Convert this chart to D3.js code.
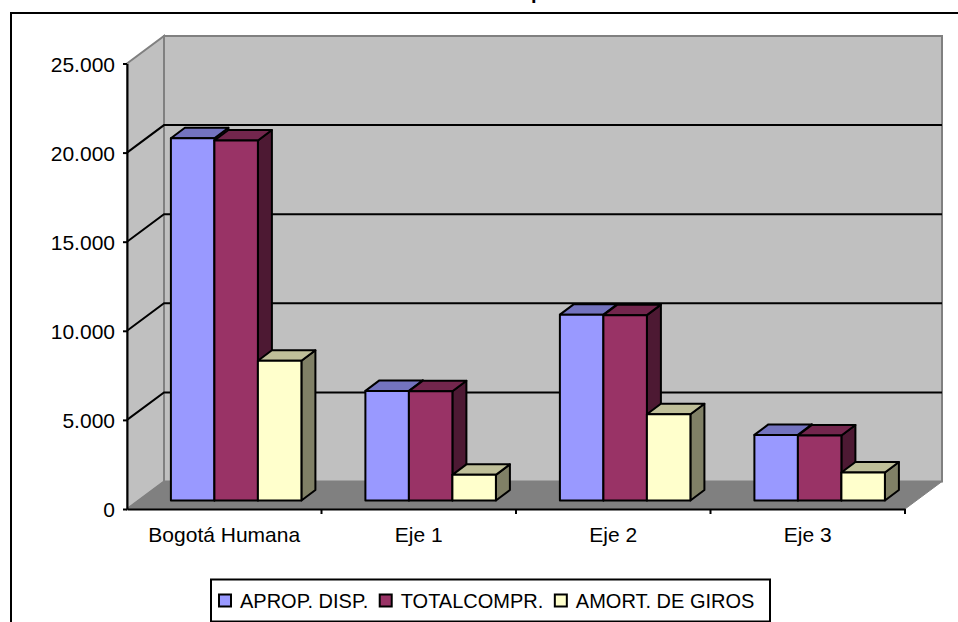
<!DOCTYPE html>
<html>
<head>
<meta charset="utf-8">
<script src="https://cdn.jsdelivr.net/npm/d3@7"></script>
<style>
html, body { margin: 0; padding: 0; background: #fff; overflow: hidden; }
svg { display: block; }
text { font-family: "Liberation Sans", Arial, sans-serif; fill: #000; }
</style>
</head>
<body>
<script>
// Daten
var categories = ["Bogotá Humana", "Eje 1", "Eje 2", "Eje 3"];
var seriesNames = ["APROP. DISP.", "TOTALCOMPR.", "AMORT. DE GIROS"];
var apropDisp = [20330, 6150, 10430, 3680];
var totalCompr = [20200, 6130, 10400, 3650];
var amortGiros = [7840, 1440, 4840, 1570];
var yTicks = [0, 5000, 10000, 15000, 20000, 25000];

var seriesValues = [apropDisp, totalCompr, amortGiros];
var faceColors = ["#9999ff", "#993366", "#ffffcc"];
var topColors = ["#7373bf", "#73264d", "#bfbf99"];
var sideColors = ["#59598c", "#4d1933", "#808066"];

var width = 958, height = 622;

// Boden und Rückwand (3D Versatz)
var plot = {left: 127, right: 905, top: 63.5, bottom: 509};
var wallDx = 37, wallDy = -27.5;
var barDx = 14, barDy = -10.5;  // Tiefe der Balken
var barLift = 8.5;              // Balken stehen etwas hinter der Achse
var barShift = 11.9;

var svg = d3.select("body").append("svg")
  .attr("width", width)
  .attr("height", height);

// Rahmen läuft rechts und unten aus dem Bild
svg.append("rect")
  .attr("x", 11).attr("y", 13)
  .attr("width", 1000).attr("height", 1000)
  .attr("fill", "none").attr("stroke", "#000").attr("stroke-width", 2);

// Rest vom abgeschnittenen Titel
svg.append("text")
  .attr("x", 531).attr("y", -1)
  .attr("font-size", 20).attr("font-weight", "bold")
  .text("p");

var yScale = d3.scaleLinear()
  .domain([0, 25000])
  .range([plot.bottom, plot.top]);

var xScale = d3.scaleBand()
  .domain(categories)
  .range([plot.left, plot.right]);

var groupWidth = xScale.bandwidth() * 0.671;

var barScale = d3.scaleBand()
  .domain(d3.range(seriesNames.length))
  .range([0, groupWidth]);

function pts(list) {
  return list.map(function (p) { return p.join(","); }).join(" ");
}

// Wände und Boden
var x0 = plot.left, x1 = plot.right, yTop = plot.top, yBot = plot.bottom;

svg.append("polygon")
  .attr("points", pts([[x0 + wallDx, yTop + wallDy], [x1 + wallDx, yTop + wallDy], [x1 + wallDx, yBot + wallDy], [x0 + wallDx, yBot + wallDy]]))
  .attr("fill", "#c0c0c0").attr("stroke", "#808080").attr("stroke-width", 2);

svg.append("polygon")
  .attr("points", pts([[x0, yTop], [x0 + wallDx, yTop + wallDy], [x0 + wallDx, yBot + wallDy], [x0, yBot]]))
  .attr("fill", "#c0c0c0").attr("stroke", "#808080").attr("stroke-width", 2);

svg.append("polygon")
  .attr("points", pts([[x0, yBot], [x0 + wallDx, yBot + wallDy], [x1 + wallDx, yBot + wallDy], [x1, yBot]]))
  .attr("fill", "#808080").attr("stroke", "#808080").attr("stroke-width", 1);

// Gitterlinien
var gridValues = yTicks.filter(function (d) { return d > 0 && d < 25000; });
svg.selectAll(".grid")
  .data(gridValues)
  .enter().append("polyline")
    .attr("class", "grid")
    .attr("fill", "none")
    .attr("stroke", "#000")
    .attr("stroke-width", 2)
    .attr("points", function (d) {
      var y = yScale(d);
      return pts([[x0, y], [x0 + wallDx, y + wallDy], [x1 + wallDx, y + wallDy]]);
    });

// Balken
var groups = svg.selectAll(".group")
  .data(categories)
  .enter().append("g")
    .attr("class", "group")
    .attr("transform", function (d) {
      var inset = (xScale.bandwidth() - groupWidth) / 2 + barShift;
      return "translate(" + (xScale(d) + inset) + "," + (-barLift) + ")";
    });

groups.each(function (cat, c) {
  var g = d3.select(this);
  seriesValues.forEach(function (values, s) {
    var left = barScale(s), right = left + barScale.bandwidth();
    var top = yScale(values[c]), bot = yScale(0);
    var bar = g.append("g")
      .attr("stroke", "#000")
      .attr("stroke-width", 2)
      .attr("stroke-linejoin", "round");
    bar.append("polygon")
      .attr("fill", sideColors[s])
      .attr("points", pts([[right, top], [right + barDx, top + barDy], [right + barDx, bot + barDy], [right, bot]]));
    bar.append("polygon")
      .attr("fill", topColors[s])
      .attr("points", pts([[left, top], [left + barDx, top + barDy], [right + barDx, top + barDy], [right, top]]));
    bar.append("rect")
      .attr("fill", faceColors[s])
      .attr("x", left).attr("y", top)
      .attr("width", barScale.bandwidth()).attr("height", bot - top);
  });
});

// Achsen
var esLocale = d3.formatLocale({decimal: ",", thousands: ".", grouping: [3], currency: ["$", ""]});

var yAxis = svg.append("g")
  .attr("transform", "translate(" + plot.left + ",0)")
  .call(d3.axisLeft(yScale).tickValues(yTicks).tickFormat(esLocale.format(",d")).tickSizeInner(4).tickSizeOuter(0).tickPadding(8));
yAxis.selectAll("text").attr("font-size", 21).attr("dy", "0.37em").style("font-family", "Liberation Sans").attr("fill", "#000");
yAxis.selectAll("line").attr("stroke", "#000").attr("stroke-width", 2);
yAxis.select(".domain").attr("stroke", "#000").attr("stroke-width", 2);

var xAxis = svg.append("g")
  .attr("transform", "translate(0," + plot.bottom + ")")
  .call(d3.axisBottom(xScale).tickSize(0).tickPadding(18));
xAxis.selectAll("text").attr("font-size", 21).style("font-family", "Liberation Sans").attr("fill", "#000");
xAxis.select(".domain").attr("stroke", "#000").attr("stroke-width", 2);

// Striche zwischen den Kategorien
svg.selectAll(".xtick")
  .data(categories)
  .enter().append("line")
    .attr("class", "xtick")
    .attr("x1", function (d) { return xScale(d) + xScale.bandwidth(); })
    .attr("x2", function (d) { return xScale(d) + xScale.bandwidth(); })
    .attr("y1", plot.bottom)
    .attr("y2", plot.bottom + 5)
    .attr("stroke", "#000")
    .attr("stroke-width", 2);

// Legende
svg.append("rect")
  .attr("x", 211).attr("y", 579.5)
  .attr("width", 559).attr("height", 42)
  .attr("fill", "#fff").attr("stroke", "#000").attr("stroke-width", 2);

var legendX = 219;
seriesNames.forEach(function (name, i) {
  svg.append("rect")
    .attr("x", legendX).attr("y", 594.5)
    .attr("width", 12).attr("height", 12)
    .attr("fill", faceColors[i]).attr("stroke", "#000").attr("stroke-width", 2);
  var label = svg.append("text")
    .attr("x", legendX + 21).attr("y", 607.5)
    .attr("font-size", 20)
    .text(name);
  legendX = legendX + 21 + label.node().getComputedTextLength() + 11.5;
});
</script>
</body>
</html>
